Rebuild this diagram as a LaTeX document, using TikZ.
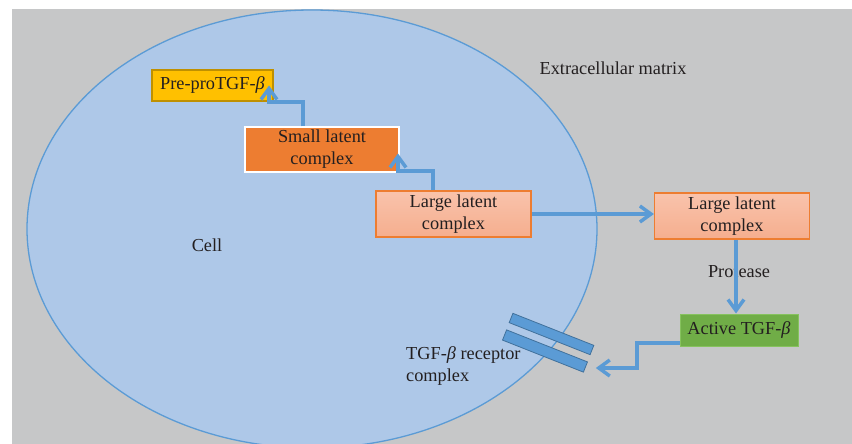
\documentclass[tikz,border=0pt]{standalone}
\usepackage{fontspec}
\setmainfont{Liberation Serif}
\usetikzlibrary{arrows.meta}
\definecolor{bggray}{HTML}{C6C7C8}
\definecolor{cellfill}{HTML}{AEC8E8}
\definecolor{cellline}{HTML}{5B9BD5}
\definecolor{flow}{HTML}{5B9BD5}
\definecolor{gold}{HTML}{FFC000}
\definecolor{goldline}{HTML}{BF9000}
\definecolor{orangebox}{HTML}{ED7D31}
\definecolor{salmontop}{HTML}{F9C3AC}
\definecolor{salmonbot}{HTML}{F5AE8E}
\definecolor{greenbox}{HTML}{70AD47}
\definecolor{greenline}{HTML}{86C25E}
\definecolor{barline}{HTML}{41719C}
\definecolor{ink}{HTML}{231F20}
\tikzset{
  lbl/.style={text=ink, font=\fontsize{18.3}{22}\selectfont, inner sep=0pt},
  box/.style={lbl, align=center, minimum width=#1},
  prebox/.style={box=121pt, minimum height=31pt, fill=gold, draw=goldline, line width=1.2pt},
  smallbox/.style={box=154pt, minimum height=45pt, fill=orangebox, draw=white, line width=1.5pt},
  largebox/.style={box=155pt, minimum height=46pt, top color=salmontop, bottom color=salmonbot, draw=orangebox, line width=1.2pt},
  activebox/.style={box=118pt, minimum height=32pt, fill=greenbox, draw=greenline, line width=1pt},
  bar/.style={draw=barline, fill=flow, line width=0.8pt, minimum width=87pt, minimum height=10pt, inner sep=0pt},
  arr/.style={draw=flow, line width=3.5pt, -{Straight Barb[length=11pt,width=16pt]}},
}
\begin{document}
\begin{tikzpicture}[x=1pt,y=-1pt]
\useasboundingbox (0,0) rectangle (852,444);
\clip (0,0) rectangle (852,444);
\fill[white] (0,0) rectangle (852,444);
\fill[bggray] (12,9) rectangle (852,444);
% the cell
\filldraw[fill=cellfill, draw=cellline, line width=1.3pt] (312,229) ellipse [x radius=285, y radius=219];

% region labels
\node[lbl] (ecm) at (613,68) {Extracellular matrix};
\node[lbl] (cell) at (207,245) {Cell};

% boxes
\node[prebox] (pre) at (212.5,85.5) {Pre-proTGF-\textit{β}};
\node[smallbox] (small) at (322,149.5) {Small latent\\complex};
\node[largebox] (largeL) at (453.5,214) {Large latent\\complex};
\node[largebox] (largeR) at (732,216) {Large latent\\complex};
\node[activebox] (active) at (739,330) {Active TGF-\textit{β}};
\node[lbl] (protease) at (739,272) {Protease};

% receptor
\node[bar, rotate=-21.6] (bar1) at (551.5,334) {};
\node[bar, rotate=-21.6, minimum height=11pt] (bar2) at (545,351) {};
\node[lbl, align=left, anchor=north west] (receptor) at (406,346) {TGF-\textit{β} receptor\\complex};

% connectors
\coordinate (k1) at (269,102);
\draw[arr] ([xshift=-19pt]small.north) |- (k1) -- (k1 |- pre.east);
\coordinate (k2) at (398,171);
\draw[arr] ([xshift=-20.5pt]largeL.north) |- (k2) -- ([yshift=-4pt]k2 |- small.east);
\draw[arr] (largeL.east) -- (largeL.east -| largeR.west);
\draw[arr] ([xshift=4pt]largeR.south) -- ([xshift=4pt]largeR.south |- active.north);
\coordinate (k3) at (637,368);
\draw[arr] ([yshift=-13pt]active.west) -| (k3) -- ([xshift=10pt]bar2.east |- k3);
\end{tikzpicture}
\end{document}
